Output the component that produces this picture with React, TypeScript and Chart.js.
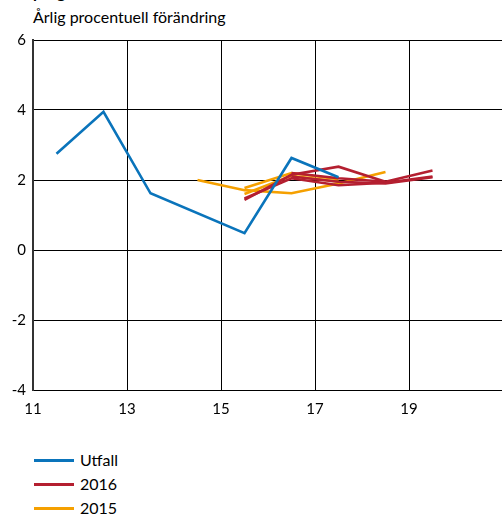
import React, { useEffect, useRef } from "react";
import { Chart, registerables } from "chart.js";

Chart.register(...registerables);

const years = [11.5, 12.5, 13.5, 14.5, 15.5, 16.5, 17.5, 18.5, 19.5];
const utfall = [2.75, 3.95, 1.62, null, 0.48, 2.63, 2.08, null, null];

const prog2016a = [null, null, null, null, 1.43, 2.15, 2.38, 1.95, null];
const prog2016b = [null, null, null, null, 1.47, 2.05, 1.85, 1.92, 2.1];
const prog2016c = [null, null, null, null, null, 2.2, 2.05, 1.95, 2.27];
const prog2016d = [null, null, null, null, null, 2.1, 1.95, 1.9, 2.08];

const prog2015a = [null, null, null, 2.0, 1.71, 1.62, 1.9, 2.23, null];
const prog2015b = [null, null, null, null, 1.77, 2.2, 2.02, null, null];
const prog2015c = [null, null, null, null, 1.6, 2.12, 1.95, null, null];

const xTicks = [11, 13, 15, 17, 19];
const yTicks = [-4, -2, 0, 2, 4, 6];

const BLUE = "#0a74bb";
const RED = "#b41f30";
const ORANGE = "#f5a000";

const legendItems = [
  { label: "Utfall", color: BLUE },
  { label: "2016", color: RED },
  { label: "2015", color: ORANGE },
];

const FONT = "Lato, 'Open Sans', sans-serif";

function pts(vals: (number | null)[]) {
  const out: { x: number; y: number }[] = [];
  vals.forEach((v, i) => {
    if (v !== null) out.push({ x: years[i], y: v });
  });
  return out;
}

function ds(label: string, vals: (number | null)[], color: string) {
  return {
    label,
    data: pts(vals),
    borderColor: color,
    backgroundColor: color,
    borderWidth: 2.6,
    pointRadius: 0,
    tension: 0,
    fill: false,
    spanGaps: true,
  };
}

export default function App() {
  const ref = useRef<HTMLCanvasElement | null>(null);

  useEffect(() => {
    if (!ref.current) return;
    const chart = new Chart(ref.current, {
      type: "line",
      data: {
        datasets: [
          ds("Utfall", utfall, BLUE),
          ds("2016", prog2016a, RED),
          ds("2016", prog2016b, RED),
          ds("2016", prog2016c, RED),
          ds("2016", prog2016d, RED),
          ds("2015", prog2015a, ORANGE),
          ds("2015", prog2015b, ORANGE),
          ds("2015", prog2015c, ORANGE),
        ],
      },
      options: {
        animation: false,
        responsive: false,
        maintainAspectRatio: false,
        layout: { padding: { top: 40, right: 3, left: 0, bottom: 0 } },
        plugins: {
          legend: { display: false },
          tooltip: { enabled: false },
        },
        scales: {
          x: {
            type: "linear",
            min: 11,
            max: 21,
            afterBuildTicks: (s: any) => {
              s.ticks = [11, 13, 15, 17, 19, 21].map((v) => ({ value: v }));
            },
            afterFit: (s: any) => {
              s.height = 40;
              s.paddingLeft = 0;
              s.paddingRight = 0;
            },
            ticks: {
              color: "#000",
              font: { family: FONT, size: 15 },
              padding: 10,
              maxRotation: 0,
              callback: (v: any) => (xTicks.includes(Number(v)) ? String(v) : ""),
            },
            grid: { color: "#000", lineWidth: 1, drawTicks: false },
            border: { color: "#000", width: 1 },
          },
          y: {
            min: -4,
            max: 6,
            afterBuildTicks: (s: any) => {
              s.ticks = yTicks.map((v) => ({ value: v }));
            },
            afterFit: (s: any) => {
              s.width = 33;
              s.paddingTop = 0;
              s.paddingBottom = 0;
            },
            ticks: {
              color: "#000",
              font: { family: FONT, size: 15 },
              padding: 7,
            },
            grid: { color: "#000", lineWidth: 1, drawTicks: false },
            border: { color: "#333", width: 2 },
          },
        },
      },
    });
    return () => chart.destroy();
  }, []);

  return (
    <div
      style={{
        position: "fixed",
        left: 0,
        top: 0,
        width: 502,
        height: 515,
        overflow: "hidden",
        background: "#fff",
        fontFamily: FONT,
        color: "#000",
      }}
    >
      <div
        style={{
          position: "absolute",
          left: 33,
          top: -17,
          fontSize: 16,
          fontWeight: 700,
          lineHeight: "18px",
          whiteSpace: "nowrap",
        }}
      >
        prognoser
      </div>
      <div
        style={{
          position: "absolute",
          left: 33,
          top: 7,
          fontSize: 16,
          lineHeight: "19px",
          whiteSpace: "nowrap",
        }}
      >
        Årlig procentuell förändring
      </div>
      <canvas
        ref={ref}
        width={506}
        height={430}
        style={{ position: "absolute", left: 0, top: 0, width: 506, height: 430 }}
      />
      <div style={{ position: "absolute", left: 34, top: 448 }}>
        {legendItems.map((it) => (
          <div
            key={it.label}
            style={{ display: "flex", alignItems: "center", height: 24 }}
          >
            <span
              style={{
                display: "inline-block",
                width: 40,
                height: 3,
                background: it.color,
                marginRight: 6,
              }}
            />
            <span style={{ fontSize: 16, lineHeight: "20px" }}>{it.label}</span>
          </div>
        ))}
      </div>
    </div>
  );
}
